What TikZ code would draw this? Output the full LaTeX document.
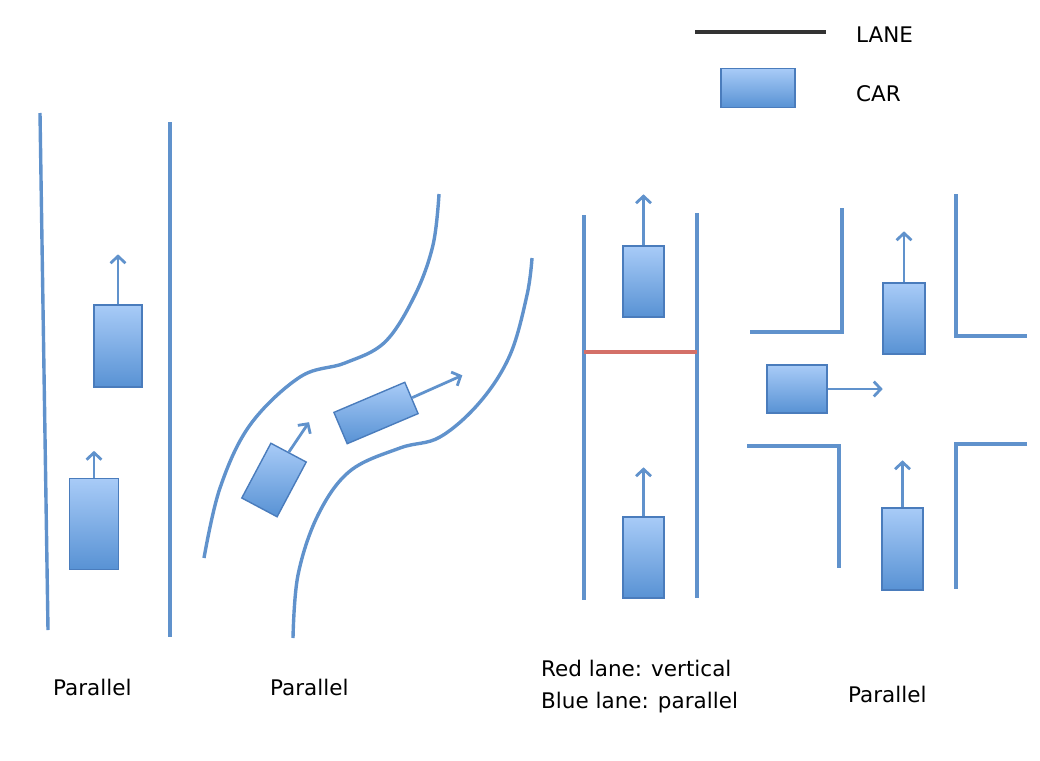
\documentclass[tikz,border=0pt]{standalone}
\usepackage{fontspec}
\setmainfont{DejaVu Sans}
\usetikzlibrary{arrows.meta}

\definecolor{laneblue}{RGB}{96,146,204}
\definecolor{carline}{RGB}{74,124,188}
\definecolor{cartop}{RGB}{168,203,247}
\definecolor{carbot}{RGB}{88,146,212}
\definecolor{lanered}{RGB}{212,112,104}
\definecolor{legendgray}{RGB}{51,51,51}

\tikzset{
    lane/.style={draw=laneblue, line width=3.4pt},
    car/.style={rectangle, draw=carline, line width=1.4pt, top color=cartop, bottom color=carbot, inner sep=0pt},
    move/.style={draw=laneblue, line width=2.8pt, -{Straight Barb[length=7pt,width=15pt,line width=2.8pt]}},
    caption/.style={anchor=base west, inner sep=0pt, font=\fontsize{21.5}{26}\selectfont}
}

\begin{document}
\begin{tikzpicture}[x=1pt,y=-1pt]
    \useasboundingbox (0,0) rectangle (1040,760);

    % Legend
    \draw[legendgray, line width=4pt] (695,32) -- (826,32);
    \node[caption] (lanekey) at (856,42) {LANE};
    \node[car, minimum width=74pt, minimum height=39pt] (carkey) at (758,88) {};
    \node[caption] (carkey-text) at (856,101) {CAR};

    % Straight road
    \draw[lane] (40,113) -- (48,630);
    \draw[lane] (170,122) -- (170,637);
    \node[car, minimum width=48pt, minimum height=82pt] (s1) at (118,346) {};
    \node[car, minimum width=49pt, minimum height=91pt] (s2) at (94,524) {};
    \draw[move] (s1.north) -- ++(0,-50);
    \draw[move] (s2.north) -- ++(0,-27);
    \node[caption] (cap1) at (53,695) {Parallel};

    % Curved road
    \draw[lane] plot[smooth, tension=0.6] coordinates {(204,558) (220,488) (250,425) (300,377) (345,363) (385,342) (415,295) (433,245) (439,194)};
    \draw[lane] plot[smooth, tension=0.6] coordinates {(293,638) (298,575) (318,515) (350,471) (400,448) (440,437) (480,402) (510,355) (527,295) (532,258)};
    \node[car, minimum width=62pt, minimum height=40pt, rotate=62] (c1) at (274,480) {};
    \node[car, minimum width=77pt, minimum height=34pt, rotate=23] (c2) at (376,413) {};
    \draw[move] (c1.east) -- ++(-56:36);
    \draw[move] (c2.east) -- ++(-24:55);
    \node[caption] (cap2) at (270,695) {Parallel};

    % Road with crossing line
    \draw[lane] (584,215) -- (584,600);
    \draw[lane] (697,213) -- (697,598);
    \draw[lanered, line width=3.4pt] (584,352) -- (697,352);
    \node[car, minimum width=41pt, minimum height=71pt] (v1) at (643.5,281.5) {};
    \node[car, minimum width=41pt, minimum height=81pt] (v2) at (643.5,557.5) {};
    \draw[move] (v1.north) -- ++(0,-51);
    \draw[move] (v2.north) -- ++(0,-49);
    \node[caption] (cap3) at (541,676) {Red lane: vertical};
    \node[caption] (cap4) at (541,708) {Blue lane: parallel};

    % Crossroads
    \draw[lane] (750,332) -- (842,332) -- (842,208);
    \draw[lane] (956,194) -- (956,336) -- (1027,336);
    \draw[lane] (747,446) -- (839,446) -- (839,568);
    \draw[lane] (1027,444) -- (956,444) -- (956,589);
    \node[car, minimum width=42pt, minimum height=71pt] (x1) at (904,318.5) {};
    \node[car, minimum width=60pt, minimum height=48pt] (x2) at (797,389) {};
    \node[car, minimum width=41pt, minimum height=82pt] (x3) at (902.5,549) {};
    \draw[move] (x1.north) -- ++(0,-51);
    \draw[move] (x2.east) -- ++(55,0);
    \draw[move] (x3.north) -- ++(0,-47);
    \node[caption] (cap5) at (848,702) {Parallel};
\end{tikzpicture}
\end{document}
